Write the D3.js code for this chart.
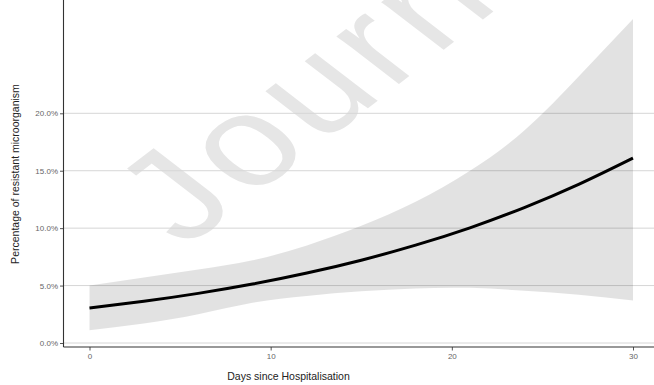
<!DOCTYPE html>
<html>
<head>
<meta charset="utf-8">
<script src="https://cdn.jsdelivr.net/npm/d3@7"></script>
<style>
  html, body { margin: 0; padding: 0; background: #fff; }
  svg { display: block; font-family: "Liberation Sans", Arial, sans-serif; }
</style>
</head>
<body>
<svg id="chart" width="654" height="385"></svg>
<script>
// Predicted share of resistant microorganisms by day of stay, with confidence band
const days      = [0,     3,     6,     9,     12,    15,    18,    21,    24,    27,    30];
const estimate  = [0.0304, 0.0363, 0.0432, 0.0513, 0.0609, 0.0721, 0.0852, 0.1003, 0.1179, 0.1381, 0.1610];
const lowerBand = [0.011, 0.017, 0.025, 0.035, 0.041, 0.045, 0.0475, 0.048, 0.0455, 0.042, 0.037];
const upperBand = [0.050, 0.057, 0.064, 0.072, 0.085, 0.102, 0.123, 0.150, 0.185, 0.232, 0.282];

const xTicks = [0, 10, 20, 30];
const yTicks = [0, 0.05, 0.10, 0.15, 0.20];
const xTitle = "Days since Hospitalisation";
const yTitle = "Percentage of resistant microorganism";
const watermark = "Journal Pre-proof";

const rows = days.map((d, i) => ({ day: d, est: estimate[i], lo: lowerBand[i], hi: upperBand[i] }));

const svg = d3.select("#chart");
const panel = { left: 63.5, right: 654, top: 0, bottom: 347 };

const x = d3.scaleLinear().domain([0, 30]).range([89.5, 633]);
const y = d3.scaleLinear().domain([0, 0.2]).range([343, 113.3]);

// diagonal watermark (horizontally stretched), behind the plot content
svg.append("text")
  .attr("transform", "scale(1.3,1) translate(142,249) rotate(-45)")
  .attr("font-size", 128).attr("letter-spacing", 6).attr("fill", "#e6e6e6")
  .text(watermark);

// horizontal major grid
svg.append("g").selectAll("line").data(yTicks).join("line")
  .attr("x1", panel.left).attr("x2", panel.right)
  .attr("y1", d => y(d)).attr("y2", d => y(d))
  .attr("stroke", "#d6d6d6").attr("stroke-width", 1);

// confidence ribbon
const band = d3.area()
  .x(d => x(d.day)).y0(d => y(d.lo)).y1(d => y(d.hi))
  .curve(d3.curveNatural);
svg.append("path").datum(rows)
  .attr("d", band)
  .attr("fill", "#000").attr("fill-opacity", 0.115);

// fitted curve
const line = d3.line().x(d => x(d.day)).y(d => y(d.est)).curve(d3.curveNatural);
svg.append("path").datum(rows)
  .attr("d", line)
  .attr("fill", "none").attr("stroke", "#000").attr("stroke-width", 3)
  .attr("stroke-linecap", "butt");

// axes
const yAxis = d3.axisLeft(y).tickValues(yTicks).tickFormat(d3.format(".1%")).tickSize(3.5).tickPadding(2);
const gy = svg.append("g").attr("transform", `translate(${panel.left},0)`).call(yAxis);
const xAxis = d3.axisBottom(x).tickValues(xTicks).tickFormat(d3.format("d")).tickSize(3.5).tickPadding(3);
const gx = svg.append("g").attr("transform", `translate(0,${panel.bottom})`).call(xAxis);

[gy, gx].forEach(g => {
  g.select(".domain").remove();
  g.selectAll(".tick line").attr("stroke", "#555");
  g.selectAll(".tick text").attr("fill", "#666").attr("font-size", 8)
    .attr("font-family", "'Liberation Sans', Arial, sans-serif");
});

// axis lines
svg.append("line")
  .attr("x1", panel.left).attr("x2", panel.left).attr("y1", panel.top).attr("y2", panel.bottom)
  .attr("stroke", "#333").attr("stroke-width", 1.1);
svg.append("line")
  .attr("x1", panel.left).attr("x2", panel.right).attr("y1", panel.bottom).attr("y2", panel.bottom)
  .attr("stroke", "#333").attr("stroke-width", 1.1);

// axis titles
svg.append("text")
  .attr("x", 288.5).attr("y", 380)
  .attr("text-anchor", "middle").attr("font-size", 10.5).attr("fill", "#222")
  .text(xTitle);
svg.append("text")
  .attr("transform", `translate(19,174) rotate(-90)`)
  .attr("text-anchor", "middle").attr("font-size", 10.5).attr("fill", "#222")
  .text(yTitle);
</script>
</body>
</html>
